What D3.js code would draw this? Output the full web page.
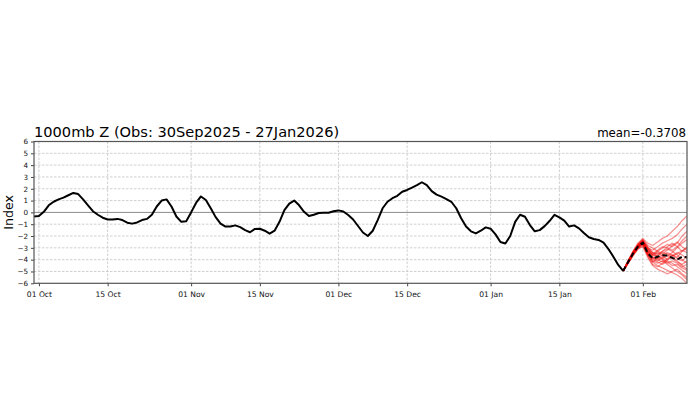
<!DOCTYPE html>
<html>
<head>
<meta charset="utf-8">
<script src="https://cdn.jsdelivr.net/npm/d3@7"></script>
<style>
  html, body { margin: 0; padding: 0; background: #fff; }
  svg { display: block; font-family: "DejaVu Sans", sans-serif; }
</style>
</head>
<body>
<svg id="chart" width="700" height="420"></svg>
<script>
// ---------- data ----------
const titleText = "1000mb Z (Obs: 30Sep2025 - 27Jan2026)";
const meanText = "mean=-0.3708";
const yLabel = "Index";
const obsStart = "2025-09-30";
// daily observed index, 30 Sep 2025 .. 28 Jan 2026
const obsValues = [
  -0.35, -0.30, 0.05, 0.60, 0.90, 1.10, 1.25, 1.45, 1.65, 1.55,
  1.10, 0.60, 0.10, -0.20, -0.45, -0.60, -0.60, -0.55, -0.65, -0.87,
  -0.95, -0.85, -0.65, -0.55, -0.20, 0.50, 1.00, 1.10, 0.50, -0.35,
  -0.80, -0.75, 0.00, 0.80, 1.35, 1.05, 0.35, -0.40, -0.95, -1.20,
  -1.20, -1.10, -1.25, -1.50, -1.68, -1.40, -1.38, -1.55, -1.80, -1.55,
  -0.80, 0.20, 0.75, 1.00, 0.60, 0.05, -0.30, -0.20, -0.05, -0.03,
  -0.03, 0.10, 0.17, 0.08, -0.22, -0.60, -1.15, -1.70, -2.00, -1.55,
  -0.65, 0.35, 0.90, 1.20, 1.40, 1.75, 1.90, 2.10, 2.30, 2.55,
  2.30, 1.80, 1.50, 1.33, 1.13, 0.90, 0.35, -0.50, -1.20, -1.60,
  -1.78, -1.55, -1.27, -1.38, -1.86, -2.50, -2.63, -2.00, -0.80, -0.20,
  -0.37, -1.07, -1.60, -1.50, -1.16, -0.73, -0.20, -0.42, -0.70, -1.20,
  -1.10, -1.35, -1.75, -2.10, -2.25, -2.33, -2.55, -3.10, -3.75, -4.45,
  -4.95
];
const fcStart = "2026-01-28";
// ensemble members, daily 28 Jan .. 10 Feb 2026
const ensMembers = [
  [-4.95,-4.1,-3.3,-2.6,-2.2,-2.6,-2.8,-2.5,-2.2,-2.0,-1.6,-1.2,-0.7,-0.3],
  [-4.95,-4.2,-3.4,-2.8,-2.4,-3.0,-3.2,-2.9,-2.6,-2.4,-2.2,-1.9,-1.4,-1.0],
  [-4.95,-4.2,-3.5,-2.9,-2.5,-3.2,-3.6,-3.3,-3.0,-2.7,-2.9,-2.6,-2.0,-1.6],
  [-4.95,-4.3,-3.6,-3.0,-2.6,-3.3,-3.8,-3.9,-3.6,-3.4,-3.6,-3.8,-3.3,-2.9],
  [-4.95,-4.2,-3.4,-2.8,-2.5,-3.5,-4.0,-4.2,-4.4,-4.1,-4.3,-4.6,-4.9,-5.2],
  [-4.95,-4.3,-3.6,-3.1,-2.8,-3.6,-4.2,-4.5,-4.7,-4.9,-5.1,-5.3,-5.6,-6.0],
  [-4.95,-4.2,-3.5,-2.9,-2.6,-3.4,-3.9,-3.8,-3.9,-4.2,-4.5,-4.4,-4.7,-4.9],
  [-4.95,-4.1,-3.4,-2.8,-2.4,-3.1,-3.4,-3.5,-3.3,-3.1,-3.3,-3.6,-4.0,-4.3],
  [-4.95,-4.3,-3.6,-3.0,-2.7,-3.7,-4.4,-4.6,-4.3,-4.0,-3.8,-4.1,-4.5,-4.8],
  [-4.95,-4.2,-3.5,-2.9,-2.5,-3.3,-3.7,-3.6,-3.4,-3.5,-3.7,-3.5,-3.2,-3.4],
  [-4.95,-4.2,-3.4,-2.7,-2.3,-2.9,-3.4,-3.7,-3.9,-3.7,-3.4,-3.0,-2.6,-2.3],
  [-4.95,-4.3,-3.7,-3.1,-2.9,-3.8,-4.5,-4.8,-5.0,-5.2,-5.0,-4.8,-5.2,-5.5],
  [-4.95,-4.1,-3.3,-2.7,-2.3,-2.8,-3.0,-3.3,-3.5,-3.2,-2.8,-2.5,-2.9,-3.2],
  [-4.95,-4.2,-3.5,-2.9,-2.6,-3.5,-3.9,-4.1,-3.8,-3.6,-3.9,-4.2,-4.4,-4.1],
  [-4.95,-4.2,-3.5,-2.9,-2.6,-3.2,-3.6,-3.4,-3.7,-4.0,-3.7,-3.4,-3.6,-3.9],
  [-4.95,-4.3,-3.5,-3.0,-2.7,-3.5,-4.1,-4.3,-4.1,-4.4,-4.7,-5.0,-5.3,-5.7],
  [-4.95,-4.2,-3.4,-2.8,-2.4,-3.0,-3.5,-3.2,-2.9,-3.0,-3.2,-2.9,-2.4,-2.0],
  [-4.95,-4.2,-3.5,-2.9,-2.5,-3.4,-3.8,-4.0,-4.2,-3.9,-3.6,-3.9,-4.1,-3.7],
  [-4.95,-4.1,-3.4,-2.8,-2.4,-3.1,-3.6,-3.7,-3.3,-2.9,-2.6,-2.9,-3.3,-3.0],
  [-4.95,-4.3,-3.6,-3.0,-2.6,-3.6,-4.2,-3.9,-4.0,-4.3,-4.1,-4.3,-4.6,-4.4]
];
const ensMean = [-4.95,-4.2,-3.5,-2.9,-2.55,-3.45,-3.9,-3.75,-3.62,-3.65,-3.85,-4.0,-3.75,-3.8];
const xTickDates = ["2025-10-01","2025-10-15","2025-11-01","2025-11-15","2025-12-01",
                    "2025-12-15","2026-01-01","2026-01-15","2026-02-01"];
const yTicks = [-6,-5,-4,-3,-2,-1,0,1,2,3,4,5,6];
const xDomain = ["2025-09-30","2026-02-10"];

// ---------- drawing ----------
const parse = d3.utcParse("%Y-%m-%d");
const svg = d3.select("#chart");
const L = 34, R = 687, T = 141.5, B = 283.3;

const x = d3.scaleUtc().domain(xDomain.map(parse)).range([L, R]);
const y = d3.scaleLinear().domain([-6, 6]).range([B, T]);

const obsData = obsValues.map((v, i) => ({ d: d3.utcDay.offset(parse(obsStart), i), v }));
const toSeries = arr => arr.map((v, i) => ({ d: d3.utcDay.offset(parse(fcStart), i), v }));

// grid
const grid = svg.append("g");
grid.selectAll("line.h").data(yTicks.filter(t => t !== 0 && t !== -6 && t !== 6)).join("line")
  .attr("x1", L).attr("x2", R).attr("y1", d => y(d)).attr("y2", d => y(d))
  .attr("stroke", "#c4c4c4").attr("stroke-width", 0.8).attr("stroke-dasharray", "2.5,1.5");
grid.selectAll("line.v").data(xTickDates.map(parse)).join("line")
  .attr("x1", d => x(d)).attr("x2", d => x(d)).attr("y1", T).attr("y2", B)
  .attr("stroke", "#c4c4c4").attr("stroke-width", 0.8).attr("stroke-dasharray", "2.5,1.5");
// zero line
svg.append("line").attr("x1", L).attr("x2", R).attr("y1", y(0)).attr("y2", y(0))
  .attr("stroke", "#8a8a8a").attr("stroke-width", 1);

const line = d3.line().x(d => x(d.d)).y(d => y(d.v));

const clip = svg.append("clipPath").attr("id", "clip").append("rect")
  .attr("x", L).attr("y", T).attr("width", R - L).attr("height", B - T);
const plot = svg.append("g").attr("clip-path", "url(#clip)");

// ensemble members
plot.selectAll("path.ens").data(ensMembers).join("path")
  .attr("d", m => line(toSeries(m)))
  .attr("fill", "none").attr("stroke", "#f00000").attr("stroke-opacity", 0.42)
  .attr("stroke-width", 1.3).attr("stroke-linejoin", "round");

// observed line
plot.append("path").attr("d", line(obsData))
  .attr("fill", "none").attr("stroke", "#000").attr("stroke-width", 2)
  .attr("stroke-linejoin", "round");

// ensemble mean
plot.append("path").attr("d", line(toSeries(ensMean)))
  .attr("fill", "none").attr("stroke", "#000").attr("stroke-width", 2)
  .attr("stroke-dasharray", "5,3").attr("stroke-linejoin", "round");

// axes
const xAxis = d3.axisBottom(x).tickValues(xTickDates.map(parse))
  .tickFormat(d3.utcFormat("%d %b")).tickSize(3).tickSizeOuter(0);
const gx = svg.append("g").attr("transform", `translate(0,${B})`).call(xAxis);
gx.select(".domain").remove();
gx.selectAll("text").attr("font-size", 7.6).attr("fill", "#111")
  .attr("font-family", "DejaVu Sans").attr("dy", "0.95em");
gx.selectAll("line").attr("stroke", "#444");

const yAxis = d3.axisLeft(y).tickValues(yTicks).tickSize(3).tickSizeOuter(0);
const gy = svg.append("g").attr("transform", `translate(${L},0)`).call(yAxis);
gy.select(".domain").remove();
gy.selectAll("text").attr("font-size", 7.2).attr("fill", "#111")
  .attr("font-family", "DejaVu Sans");
gy.selectAll("line").attr("stroke", "#444");

// frame
svg.append("rect").attr("x", L).attr("y", T).attr("width", R - L).attr("height", B - T)
  .attr("fill", "none").attr("stroke", "#555").attr("stroke-width", 1.2);

// texts
svg.append("text").attr("x", 34).attr("y", 136.5).attr("font-size", 14.6)
  .attr("fill", "#000").text(titleText);
svg.append("text").attr("x", 686).attr("y", 136.5).attr("font-size", 11.8)
  .attr("text-anchor", "end").attr("fill", "#000").text(meanText);
svg.append("text").attr("transform", `translate(13,${y(0)}) rotate(-90)`)
  .attr("font-size", 12.6).attr("text-anchor", "middle").attr("fill", "#000").text(yLabel);
</script>
</body>
</html>
